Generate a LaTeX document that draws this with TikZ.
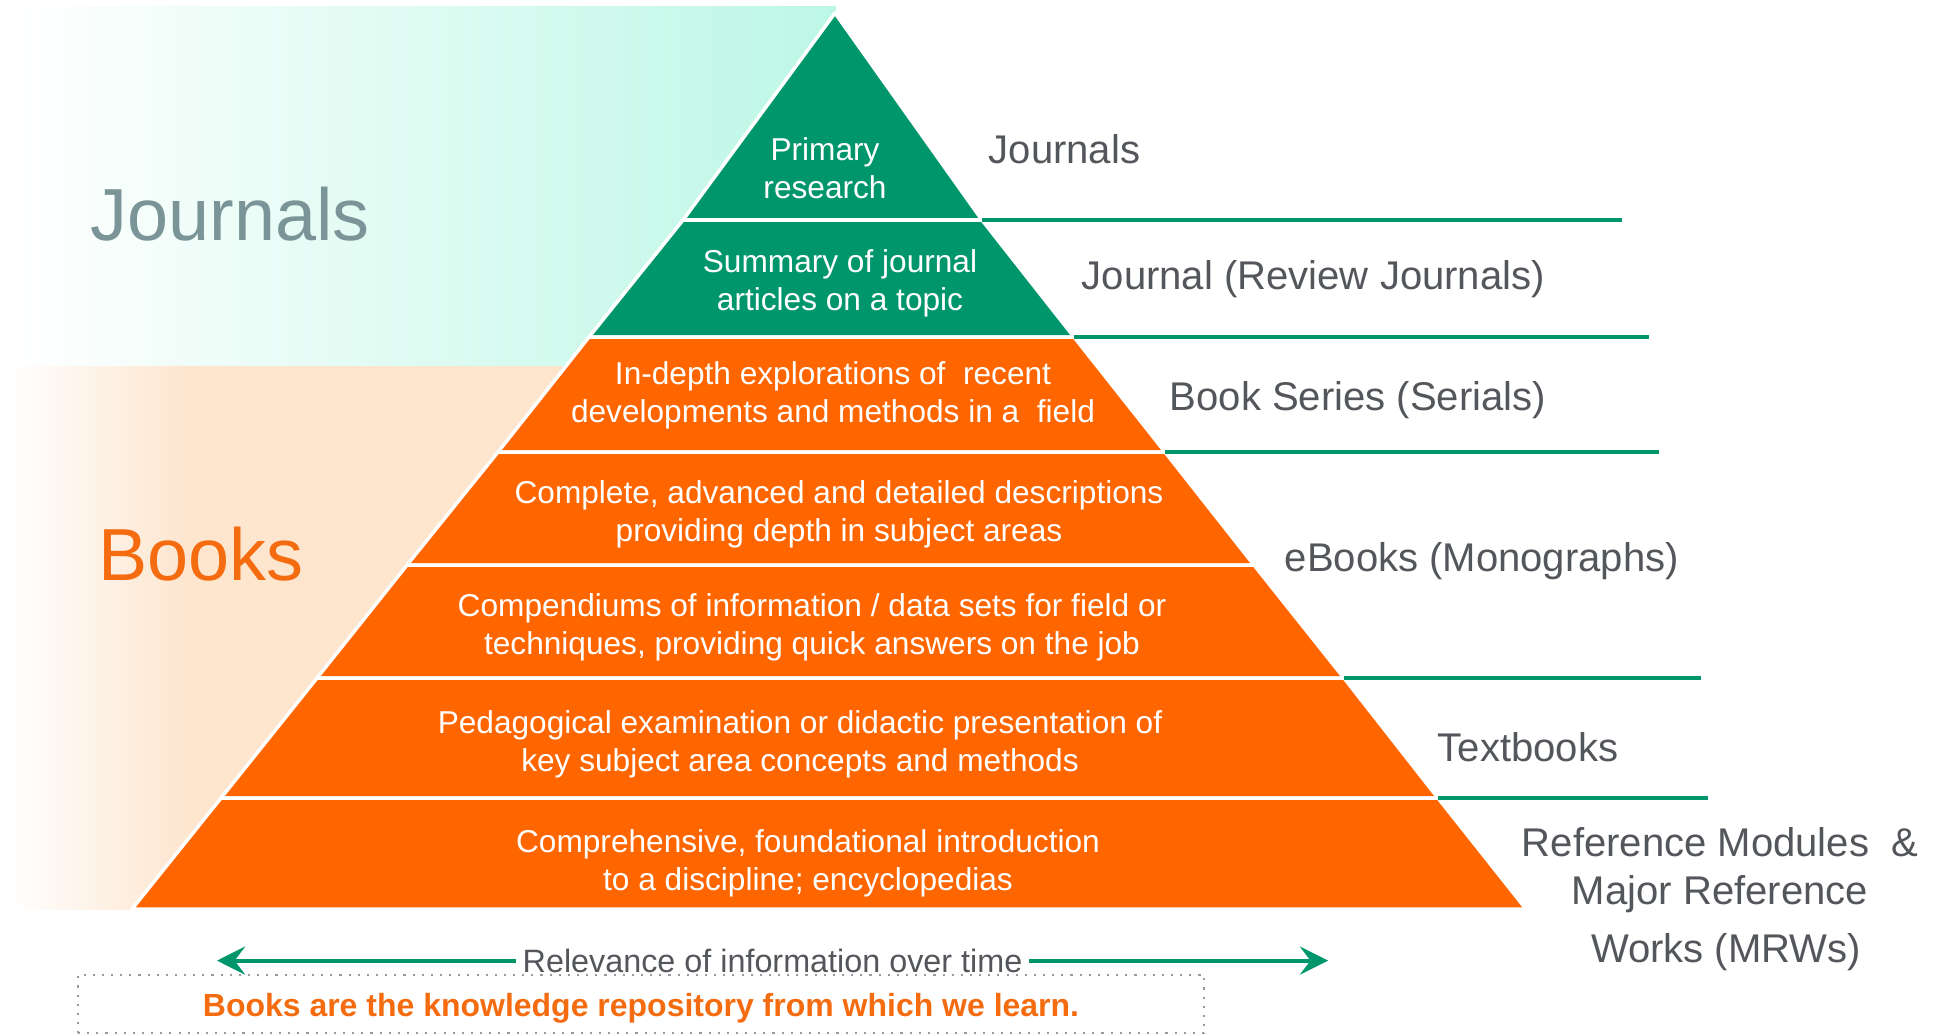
\documentclass[tikz,border=0pt]{standalone}
\usepackage{fontspec}
\setmainfont{Liberation Sans}
\usepackage{xcolor}
\usepackage{tikz}
\usetikzlibrary{calc}
\usetikzlibrary{arrows.meta}
\usetikzlibrary{positioning}
\definecolor{elsgreen}{RGB}{0,150,108}
\definecolor{elsorange}{RGB}{255,102,0}
\definecolor{mint}{RGB}{188,247,229}
\definecolor{peach}{RGB}{253,229,206}
\definecolor{labelgray}{RGB}{83,86,90}
\definecolor{bigjournal}{RGB}{122,148,152}
\definecolor{bigbook}{RGB}{245,108,16}
\tikzset{>=latex}
\tikzstyle{level} = [draw = white, line width = 1pt, line join = round]
\tikzstyle{tier} = [draw = none, align = center, text = white, font = \fontsize{9}{10.8}\selectfont]
\tikzstyle{kind} = [draw = none, anchor = base west, inner sep = 0pt, text = labelgray, font = \fontsize{11.4}{13.7}\selectfont]
\tikzstyle{refkind} = [kind, anchor = base]
\tikzstyle{sep} = [-, draw = elsgreen, line width = 1pt]
\tikzstyle{big} = [draw = none, font = \fontsize{21}{25}\selectfont]

\begin{document}
\begin{tikzpicture}
\useasboundingbox (0,0) rectangle (19.41,10.35);
% bands behind the pyramid
\fill [peach] (1.9,1.26) rectangle (8.3,6.98);
\shade [left color = white, right color = peach] (0.10,1.26) rectangle (1.9,6.98);
\shade [left color = white, right color = mint] (0.15,6.70) rectangle (8.36,10.29);
\node [big, text = bigjournal] (jbig) at (2.30,8.21) {Journals};
\node [big, text = bigbook] (bbig) at (2.01,4.81) {Books};

% pyramid
\coordinate (t0) at (8.35,10.22);
\coordinate (l1) at (6.83,8.15); \coordinate (r1) at (9.82,8.15);
\coordinate (l2) at (5.89,6.98); \coordinate (r2) at (10.74,6.98);
\coordinate (l3) at (4.98,5.83); \coordinate (r3) at (11.65,5.83);
\coordinate (l4) at (4.07,4.70); \coordinate (r4) at (12.54,4.70);
\coordinate (l5) at (3.17,3.57); \coordinate (r5) at (13.44,3.57);
\coordinate (l6) at (2.21,2.37); \coordinate (r6) at (14.38,2.37);
\coordinate (l7) at (1.32,1.26); \coordinate (r7) at (15.26,1.26);
\filldraw [level, fill = elsgreen] (t0) -- (r1) -- (l1) -- cycle;
\filldraw [level, fill = elsgreen] (l1) -- (r1) -- (r2) -- (l2) -- cycle;
\foreach \a/\b in {2/3,3/4,4/5,5/6,6/7}
  \filldraw [level, fill = elsorange] (l\a) -- (r\a) -- (r\b) -- (l\b) -- cycle;

\node [tier] (prim) at (8.25,8.67) {Primary\\research};
\node [tier] (summ) at (8.40,7.52) {Summary of journal\\articles on a topic};
\node [tier] (indep) at (8.33,6.40) {In-depth explorations of\ \ recent\\developments and methods in a\ \ field};
\node [tier] (compl) at (8.39,5.21) {Complete, advanced and detailed descriptions\\providing depth in subject areas};
\node [tier] (compe) at (8.12,4.08) {Compendiums of information / data sets for field or\\techniques, providing quick answers on the job};
\node [tier] (peda) at (8.00,2.91) {Pedagogical examination or didactic presentation of\\key subject area concepts and methods};
\node [tier] (found) at (8.08,1.72) {Comprehensive, foundational introduction\\to a discipline; encyclopedias};

% publication types on the right
\coordinate (e1) at (16.22,8.15);
\coordinate (e2) at (16.49,6.98);
\coordinate (e3) at (16.59,5.83);
\coordinate (e5) at (17.01,3.57);
\coordinate (e6) at (17.08,2.37);
\draw [sep] (r1) -- (e1);
\draw [sep] (r2) -- (e2);
\draw [sep] (r3) -- (e3);
\draw [sep] (r5) -- (e5);
\draw [sep] (r6) -- (e6);
\node [kind] (jour) at (9.88,8.72) {Journals};
\node [kind] (rev) at (10.81,7.455) {Journal (Review Journals)};
\node [kind] (ser) at (11.69,6.245) {Book Series (Serials)};
\node [kind] (ebk) at (12.84,4.635) {eBooks (Monographs)};
\node [kind] (txt) at (14.37,2.74) {Textbooks};
\node [refkind] (ref1) at (17.20,1.785) {Reference Modules\ \ \&};
\node [refkind] (ref2) at (17.20,1.305) {Major Reference};
\node [refkind] (ref3) at (17.26,0.725) {Works (MRWs)};

% bottom
\coordinate (aL) at (2.17,0.744);
\coordinate (aR) at (13.28,0.744);
\draw [{Stealth[length=8pt, width=8pt, inset=3pt]}-{Stealth[length=8pt, width=8pt, inset=3pt]}, draw = elsgreen, fill = elsgreen, line width = 1.1pt] (aL) -- (aR)
  node [midway, fill = white, text = labelgray, inner sep = 2pt, font = \fontsize{9.2}{11}\selectfont] (rel) {Relevance of information over time};
\node [draw = gray!80, dotted, line width = 0.6pt, minimum width = 11.26cm, minimum height = 0.57cm, text height = 0.3cm, text depth = 0.05cm, text = bigbook, font = \fontsize{9.1}{11}\selectfont\bfseries] (msg) at (6.41,0.31) {Books are the knowledge repository from which we learn.};
\end{tikzpicture}
\end{document}
